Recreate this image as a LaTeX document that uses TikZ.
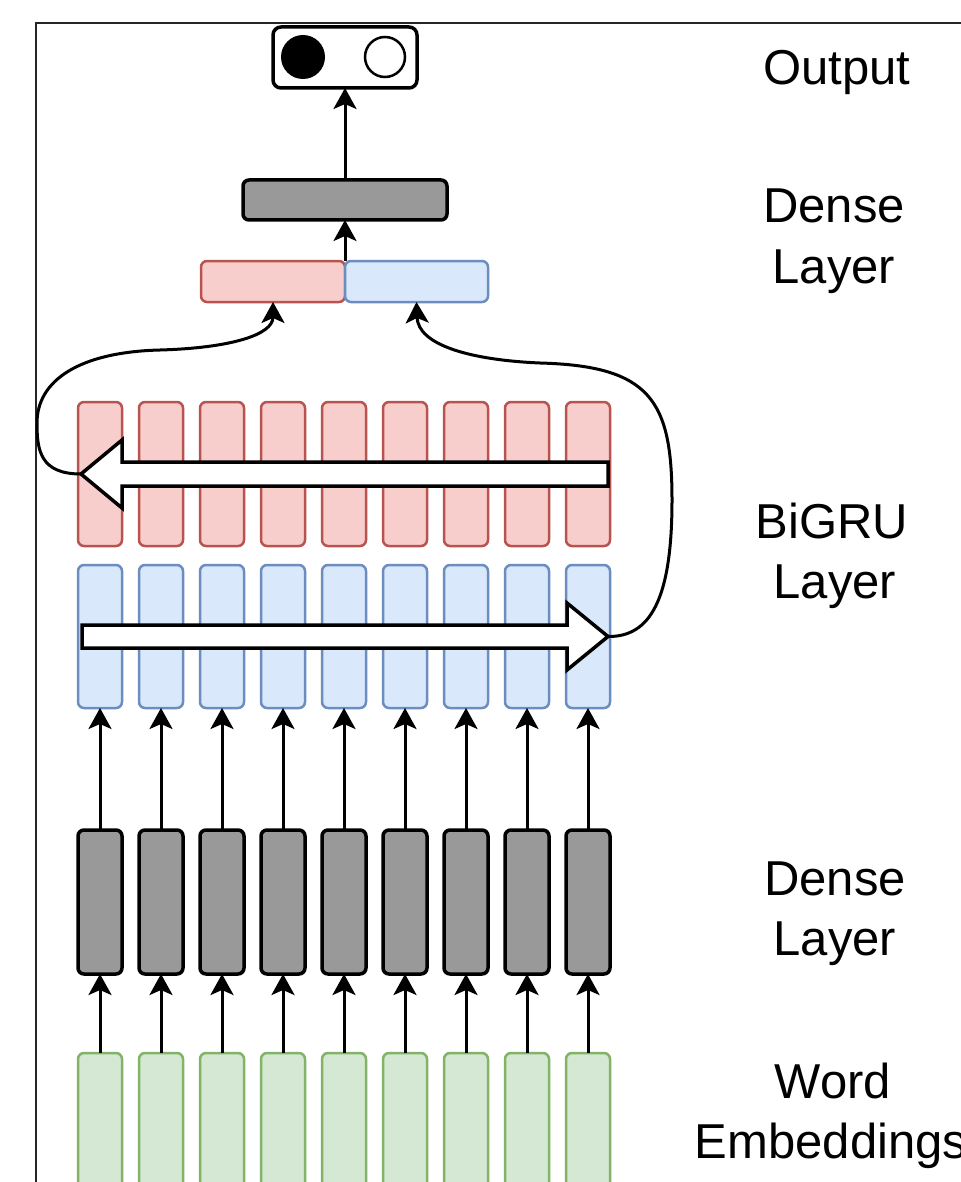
\documentclass[tikz,border=0pt]{standalone}
\usepackage{fontspec}
\setmainfont{Liberation Sans}
\usetikzlibrary{arrows.meta}
\definecolor{redfill}{HTML}{F8CECC}
\definecolor{redline}{HTML}{B85450}
\definecolor{bluefill}{HTML}{DAE8FC}
\definecolor{blueline}{HTML}{6C8EBF}
\definecolor{greenfill}{HTML}{D5E8D4}
\definecolor{greenline}{HTML}{82B366}
\definecolor{grayfill}{HTML}{999999}
\begin{document}
\begin{tikzpicture}[x=0.5pt,y=-0.5pt,
  cell/.style={rectangle, rounded corners=3pt, minimum width=22pt, inner sep=0pt, outer sep=0pt},
  redcell/.style={cell, fill=redfill, draw=redline, line width=1.25pt, minimum height=72pt},
  bluecell/.style={cell, fill=bluefill, draw=blueline, line width=1.25pt, minimum height=71.5pt},
  graycell/.style={cell, fill=grayfill, draw=black, line width=1.75pt, minimum height=72pt},
  greencell/.style={cell, fill=greenfill, draw=greenline, line width=1.25pt, minimum height=100pt},
  conn/.style={line width=1.5pt, -{Stealth[length=10.5pt,width=11.5pt,inset=2.5pt]}},
  bigarrow/.style={fill=white, draw=black, line width=1.75pt, line join=miter},
  lbl/.style={font=\fontsize{24.5}{30}\selectfont, inner sep=0pt, anchor=base},
]
\useasboundingbox (0,0) rectangle (960,1182);
\fill[white] (0,0) rectangle (960,1182);
\draw[line width=1.1pt, black!85] (36,1190) -- (36,23) -- (970,23);

\foreach \i in {0,...,8} {
  \pgfmathsetmacro\cx{100+61*\i}
  \node[redcell] (r\i) at (\cx,474) {};
  \node[bluecell] (b\i) at (\cx,636.5) {};
  \node[graycell] (g\i) at (\cx,902) {};
  \node[greencell] (w\i) at (\cx,1153) {};
  \draw[conn] (g\i.north) -- (b\i.south);
  \draw[conn] (w\i.north) -- (g\i.south);
}

\node[cell, fill=redfill, draw=redline, line width=1.25pt, minimum width=72pt, minimum height=20.5pt] (cr) at (273,281.5) {};
\node[cell, fill=bluefill, draw=blueline, line width=1.25pt, minimum width=71.5pt, minimum height=20.5pt] (cb) at (416.5,281.5) {};
\node[cell, fill=grayfill, draw=black, line width=1.75pt, minimum width=102pt, minimum height=20pt] (dn) at (345,200) {};
\node[cell, fill=white, draw=black, line width=1.75pt, minimum width=72pt, minimum height=30.5pt, rounded corners=4pt] (out) at (345,57.5) {};
\node[circle, fill=black, minimum size=22pt, inner sep=0pt] (o1) at (303,57) {};
\node[circle, draw=black, line width=1.25pt, fill=white, minimum size=20pt, inner sep=0pt] (o2) at (385,57) {};
\draw[conn] (cr.north east) -- (dn.south);
\draw[conn] (dn.north) -- (out.south);

\draw[bigarrow] (608,462) -- (122,462) -- (122,440) -- (81,474) coordinate (bt) -- (122,508) -- (122,486) -- (608,486) -- cycle;
\draw[bigarrow] (82,625) -- (567,625) -- (567,603) -- (608,636.5) coordinate (ft) -- (567,670) -- (567,648) -- (82,648) -- cycle;

\draw[conn] (bt) .. controls (40,474) and (37,450) .. (37,423) .. controls (37,380) and (80,352) .. (160,350) .. controls (230,348) and (273,335) .. (cr.south);
\draw[conn] (ft) .. controls (650,637) and (672,600) .. (672,500) .. controls (672,400) and (650,366) .. (540,363) .. controls (470,360) and (418,345) .. (cb.south);

\node[lbl] (l1) at (837,85) {Output};
\node[lbl] (l2a) at (834,223) {Dense};
\node[lbl] (l2b) at (834,283) {Layer};
\node[lbl] (l3a) at (832,538) {BiGRU};
\node[lbl] (l3b) at (835,598) {Layer};
\node[lbl] (l4a) at (835,895) {Dense};
\node[lbl] (l4b) at (835,955) {Layer};
\node[lbl] (l5a) at (833,1098) {Word};
\node[lbl] (l5b) at (831,1158) {Embeddings};
\end{tikzpicture}
\end{document}
